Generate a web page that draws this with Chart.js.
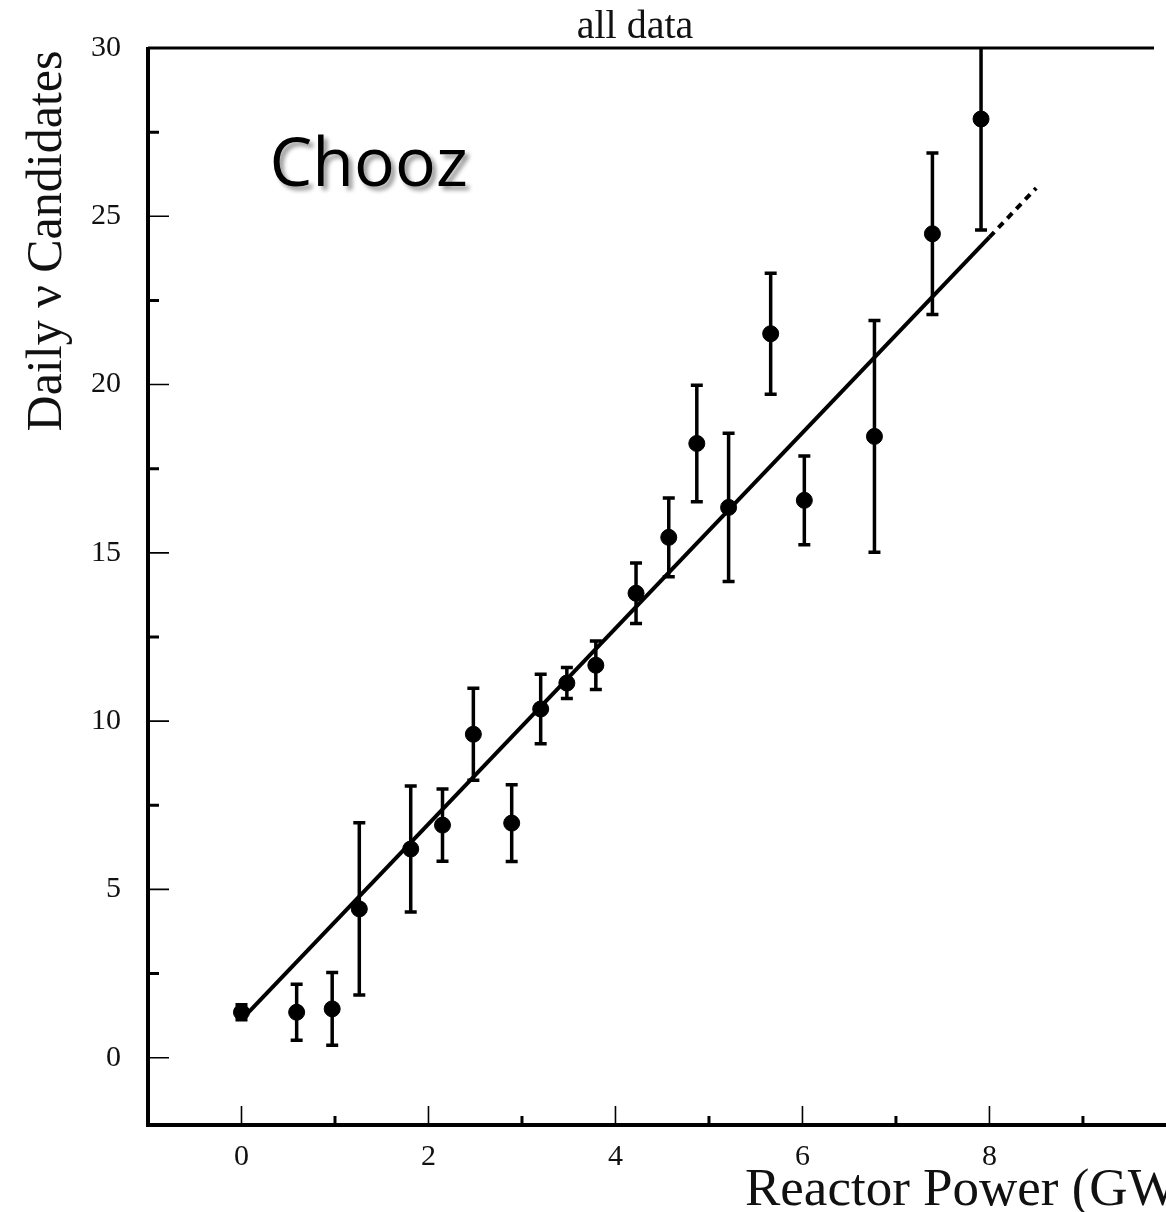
<!DOCTYPE html>
<html lang="en">
<head>
<meta charset="UTF-8">
<title>Chooz - all data</title>
<script src="https://cdn.jsdelivr.net/npm/chart.js"></script>
<style>
  html, body { margin: 0; padding: 0; background: #fff; overflow: hidden; }
</style>
</head>
<body>
<canvas id="chooz" width="1166" height="1212"></canvas>
<script>
// reactor power (GW) and daily neutrino candidates
const power      = [0.00, 0.59, 0.97, 1.26, 1.81, 2.15, 2.48, 2.89, 3.20, 3.48, 3.79, 4.22, 4.57, 4.87, 5.21, 5.66, 6.02, 6.77, 7.39, 7.91];
const candidates = [1.35, 1.35, 1.45, 4.42, 6.20, 6.91, 9.61, 6.97, 10.36, 11.13, 11.66, 13.80, 15.46, 18.25, 16.35, 21.51, 16.56, 18.46, 24.48, 27.89];
const candErr    = [0.22, 0.83, 1.08, 2.56, 1.87, 1.07, 1.37, 1.14, 1.03, 0.46, 0.72, 0.90, 1.17, 1.73, 2.20, 1.80, 1.32, 3.44, 2.40, 3.30];

// linear fit, solid over the data, dashed extrapolation
const fitX = [0, 8];
const fitY = [1.13, 24.38];
const extX = [8, 8.5];
const extY = [24.38, 25.84];

const xTicks = [0, 2, 4, 6, 8];
const xMinor = [1, 3, 5, 7, 9];
const yTicks = [0, 5, 10, 15, 20, 25, 30];
const yMinor = [2.5, 7.5, 12.5, 17.5, 22.5, 27.5];

const serif = '"Liberation Serif", "DejaVu Serif", serif';
const ink = '#111';

const pts = (xs, ys) => xs.map((x, i) => ({ x: x, y: ys[i] }));

const frame = {
    id: 'frame',
    beforeDatasetsDraw(chart) {
        const { ctx, chartArea: a, scales: { x, y } } = chart;
        ctx.save();
        ctx.beginPath();
        ctx.rect(a.left, a.top, a.right - a.left, a.bottom - a.top);
        ctx.clip();
        ctx.strokeStyle = '#000';
        ctx.lineWidth = 3.5;
        power.forEach((p, i) => {
            const px = x.getPixelForValue(p);
            const top = y.getPixelForValue(candidates[i] + candErr[i]);
            const bot = y.getPixelForValue(candidates[i] - candErr[i]);
            ctx.beginPath();
            ctx.moveTo(px, top); ctx.lineTo(px, bot);
            ctx.moveTo(px - 6, top); ctx.lineTo(px + 6, top);
            ctx.moveTo(px - 6, bot); ctx.lineTo(px + 6, bot);
            ctx.stroke();
        });
        ctx.restore();
    },
    afterDraw(chart) {
        const { ctx, chartArea: a, scales: { x, y } } = chart;
        ctx.save();
        ctx.strokeStyle = '#000';
        ctx.lineCap = 'butt';

        // frame: heavy left and bottom, top line
        ctx.lineWidth = 4;
        ctx.beginPath();
        ctx.moveTo(a.left, a.top - 1); ctx.lineTo(a.left, a.bottom);
        ctx.lineTo(chart.width, a.bottom);
        ctx.stroke();
        ctx.lineWidth = 3;
        ctx.beginPath();
        ctx.moveTo(a.left, a.top); ctx.lineTo(a.right, a.top);
        ctx.stroke();

        // tick marks point into the plot
        ctx.lineWidth = 1.6;
        ctx.beginPath();
        xTicks.forEach(v => { const px = x.getPixelForValue(v); ctx.moveTo(px, a.bottom); ctx.lineTo(px, a.bottom - 19); });
        yTicks.forEach(v => { const py = y.getPixelForValue(v); ctx.moveTo(a.left, py); ctx.lineTo(a.left + 21, py); });
        ctx.stroke();
        ctx.lineWidth = 3;
        ctx.beginPath();
        xMinor.forEach(v => { const px = x.getPixelForValue(v); ctx.moveTo(px, a.bottom); ctx.lineTo(px, a.bottom - 9); });
        yMinor.forEach(v => { const py = y.getPixelForValue(v); ctx.moveTo(a.left, py); ctx.lineTo(a.left + 11, py); });
        ctx.stroke();

        ctx.fillStyle = ink;
        // title
        ctx.font = '40px ' + serif;
        ctx.textAlign = 'center';
        ctx.textBaseline = 'alphabetic';
        ctx.fillText('all data', 635, 38);

        // x axis title, runs off the right edge like the original
        ctx.font = '53px ' + serif;
        ctx.textAlign = 'left';
        ctx.fillText('Reactor Power (GW)', 745, 1205);

        // y axis title
        ctx.save();
        ctx.translate(61, 241);
        ctx.rotate(-Math.PI / 2);
        ctx.textAlign = 'center';
        ctx.font = '50px ' + serif;
        ctx.fillText('Daily \u03bd Candidates', 0, 0);
        ctx.restore();

        // experiment label
        ctx.save();
        ctx.font = '500 68px "Open Sans", "DejaVu Sans", sans-serif';
        ctx.textAlign = 'left';
        ctx.shadowColor = 'rgba(0,0,0,0.4)';
        ctx.shadowOffsetX = 4;
        ctx.shadowOffsetY = 4;
        ctx.shadowBlur = 4;
        ctx.fillStyle = '#000';
        ctx.fillText('Chooz', x.getPixelForValue(0.30), y.getPixelForValue(25.9));
        ctx.restore();

        ctx.restore();
    }
};

new Chart(document.getElementById('chooz'), {
    type: 'scatter',
    data: {
        datasets: [
            {
                label: 'fit',
                type: 'line',
                data: pts(fitX, fitY),
                borderColor: '#000',
                borderWidth: 4,
                pointRadius: 0,
                fill: false
            },
            {
                label: 'extrapolation',
                type: 'line',
                data: pts(extX, extY),
                borderColor: '#000',
                borderWidth: 4,
                borderDash: [7, 6],
                pointRadius: 0,
                fill: false
            },
            {
                label: 'Daily candidates',
                data: pts(power, candidates),
                backgroundColor: '#000',
                borderColor: '#000',
                pointRadius: 8,
                pointHoverRadius: 8
            }
        ]
    },
    options: {
        responsive: false,
        animation: false,
        devicePixelRatio: 1,
        layout: { padding: { top: 48, right: 12, left: 0, bottom: 0 } },
        plugins: {
            legend: { display: false },
            tooltip: { enabled: false },
            title: { display: false }
        },
        scales: {
            x: {
                type: 'linear',
                min: -1,
                max: 9.76,
                afterFit: s => { s.height = 87; },
                afterBuildTicks: s => { s.ticks = xTicks.map(v => ({ value: v })); },
                grid: { display: false, drawTicks: false },
                border: { display: false },
                ticks: { font: { family: serif, size: 30 }, color: ink, padding: 14, maxRotation: 0, autoSkip: false }
            },
            y: {
                type: 'linear',
                min: -2,
                max: 30,
                afterFit: s => { s.width = 148; },
                afterBuildTicks: s => { s.ticks = yTicks.map(v => ({ value: v })); },
                grid: { display: false, drawTicks: false },
                border: { display: false },
                ticks: { font: { family: serif, size: 30 }, color: ink, padding: 27, autoSkip: false }
            }
        }
    },
    plugins: [frame]
});
</script>
</body>
</html>
